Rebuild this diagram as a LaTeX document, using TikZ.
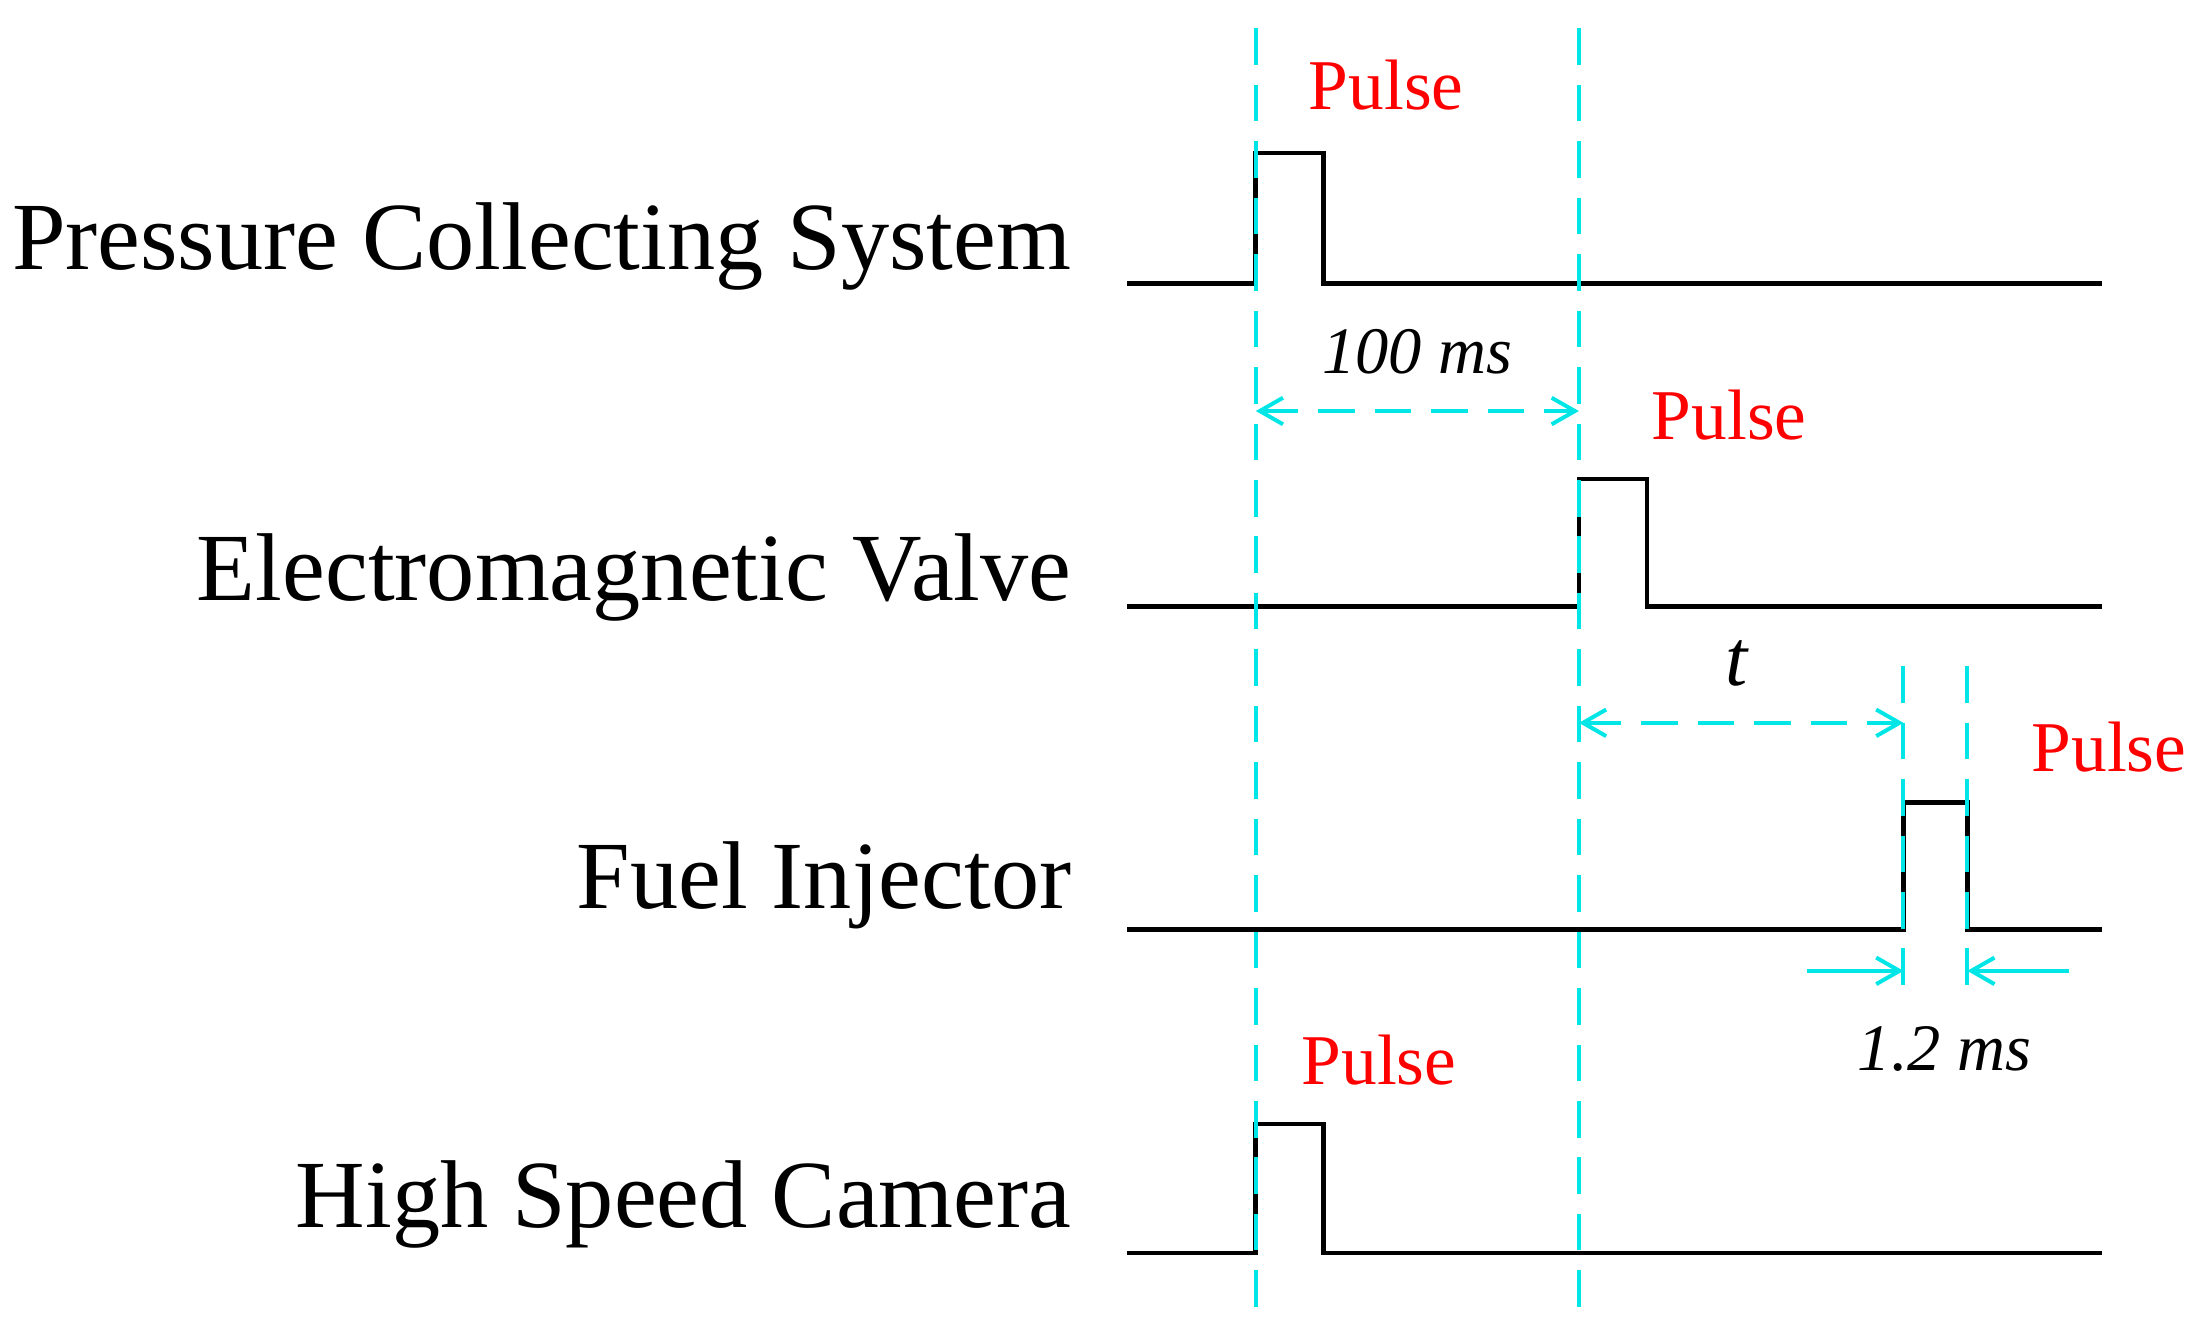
\documentclass[tikz,border=0pt]{standalone}
\usepackage{fontspec}
\setmainfont{Liberation Serif}
\usetikzlibrary{arrows.meta}
\definecolor{guide}{RGB}{0,230,230}
\tikzset{
  signal/.style={line width=2.8pt, black},
  guideline/.style={guide, line width=2.4pt, dash pattern=on 22pt off 12pt},
  span/.style={guide, line width=2.4pt, dash pattern=on 22pt off 12pt, {Straight Barb[length=14pt,width=16pt]}-{Straight Barb[length=14pt,width=16pt]}},
  pointer/.style={guide, line width=2.4pt, -{Straight Barb[length=14pt,width=16pt]}},
  signame/.style={anchor=base east, font=\fontsize{58}{66}\selectfont},
  pulse/.style={red, font=\fontsize{43}{50}\selectfont},
  measure/.style={font=\itshape\fontsize{40}{46}\selectfont}
}
\begin{document}
\begin{tikzpicture}[x=0.3mm, y=-0.3mm]
    \useasboundingbox (0,0) rectangle (1560,943);
    % signal names
    \node[signame] (pcs) at (760,190) {Pressure Collecting System};
    \node[signame] (ev)  at (760,424) {Electromagnetic Valve};
    \node[signame] (fi)  at (760,641) {Fuel Injector};
    \node[signame] (hsc) at (760,866) {High Speed Camera};
    % signals
    \draw[signal] (795,200) -- (886,200) -- (886,108) -- (934,108) -- (934,200) -- (1483,200);
    \draw[signal] (795,428) -- (1114,428) -- (1114,338) -- (1162,338) -- (1162,428) -- (1483,428);
    \draw[signal] (795,656) -- (1343,656) -- (1343,566) -- (1388,566) -- (1388,656) -- (1483,656);
    \draw[signal] (795,884) -- (886,884) -- (886,793) -- (934,793) -- (934,884) -- (1483,884);
    % guide lines
    \coordinate (g1t) at (886,20);  \coordinate (g1b) at (886,930);
    \coordinate (g2t) at (1114,20); \coordinate (g2b) at (1114,930);
    \coordinate (g3t) at (1343,470); \coordinate (g3b) at (1343,700);
    \coordinate (g4t) at (1388,470); \coordinate (g4b) at (1388,700);
    \draw[guideline] (g1t) -- (g1b);
    \draw[guideline] (g2t) -- (g2b);
    \draw[guideline] (g3t) -- (g3b);
    \draw[guideline] (g4t) -- (g4b);
    % labels
    \node[pulse] (p1) at (978,60)  {Pulse};
    \node[pulse] (p2) at (1220,293) {Pulse};
    \node[pulse] (p3) at (1488,527) {Pulse};
    \node[pulse] (p4) at (973,748) {Pulse};
    % intervals
    \coordinate (a1) at (886,290); \coordinate (a2) at (1114,290);
    \draw[span] (a1) -- (a2);
    \node[measure] (d1) at (1000,248) {100 ms};
    \coordinate (b1) at (1114,510); \coordinate (b2) at (1343,510);
    \draw[span] (b1) -- (b2);
    \node[measure, font=\itshape\fontsize{48}{54}\selectfont] (d2) at (1225,468) {t};
    \coordinate (c0) at (1275,685); \coordinate (c1) at (1343,685);
    \coordinate (c2) at (1388,685); \coordinate (c3) at (1460,685);
    \draw[pointer] (c0) -- (c1);
    \draw[pointer] (c3) -- (c2);
    \node[measure] (d3) at (1372,740) {1.2 ms};
\end{tikzpicture}
\end{document}
